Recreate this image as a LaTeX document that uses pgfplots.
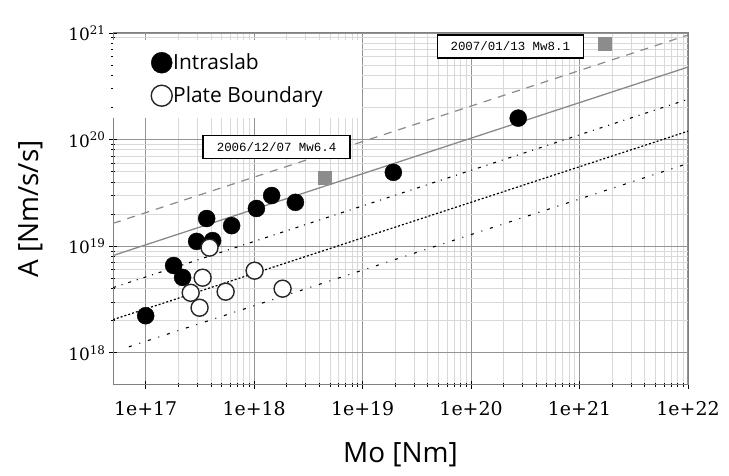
\documentclass[border=0pt]{standalone}
\usepackage{fontspec}
\setmainfont{DejaVu Serif}
\newfontfamily\sansf{Open Sans}
\newfontfamily\monof{Liberation Mono}
\usepackage{pgfplots}
\pgfplotsset{compat=1.18}
\definecolor{lgray}{RGB}{138,138,138}
\definecolor{sqgray}{RGB}{140,140,140}
\begin{document}
\begin{tikzpicture}
\begin{loglogaxis}[
  scale only axis, width=575bp, height=352bp,
  xmin=5e16, xmax=1e22, ymin=5e17, ymax=1e21,
  xtick={1e17,1e18,1e19,1e20,1e21,1e22},
  xticklabels={1e+17,1e+18,1e+19,1e+20,1e+21,1e+22},
  ytick={1e18,1e19,1e20,1e21},
  yticklabels={10\textsuperscript{18},10\textsuperscript{19},10\textsuperscript{20},10\textsuperscript{21}},
  /pgf/number format/assume math mode=true,
  grid=both,
  major grid style={draw=black!42, line width=1.1bp},
  minor grid style={draw=black!15, line width=0.9bp},
  axis line style={draw=black!50, line width=1bp},
  tick style={black, line width=0.9bp},
  tick align=center, major tick length=8bp, minor tick length=4bp,
  tick pos=left,
  xticklabel style={font=\fontsize{19}{22}\selectfont, yshift=-9bp},
  yticklabel style={font=\fontsize{17}{20}\selectfont},
  xlabel={Mo [Nm]},
  ylabel={A [Nm/s/s]},
  xlabel style={font=\sansf\fontsize{28}{32}\selectfont, at={(axis description cs:0.5,-0.199)}, anchor=center},
  ylabel style={font=\sansf\fontsize{28}{32}\selectfont, at={(axis description cs:-0.144,0.5)}, anchor=center},
  legend style={at={(axis description cs:0,0.98)}, anchor=north west, draw=none, fill=white,
    font=\sansf\fontsize{21}{25}\selectfont, inner xsep=38bp, inner ysep=12bp, row sep=12bp,
    nodes={inner sep=1bp}},
  legend image post style={mark size=10.5bp},
  legend cell align=left,
  clip mode=individual,
]
% model lines
\addplot[forget plot, lgray, line width=1.2bp, dash pattern=on 8bp off 7bp] coordinates {(5e16,1.64e19) (1e22,9.57e20)};
\addplot[forget plot, lgray, line width=1.3bp] coordinates {(5e16,8.18e18) (1e22,4.79e20)};
\addplot[forget plot, black, line width=1.1bp, dash pattern=on 3bp off 6bp on 1bp off 6bp] coordinates {(5e16,4.09e18) (1e22,2.39e20)};
\addplot[forget plot, black, line width=1.2bp, dash pattern=on 2bp off 2bp] coordinates {(5e16,2.05e18) (1e22,1.20e20)};
\addplot[forget plot, black, line width=1.1bp, dash pattern=on 3bp off 8bp on 1bp off 8bp] coordinates {(7e16,1.14e18) (1e22,5.98e19)};
% data
\addplot[only marks, mark=*, mark size=8.5bp, mark options={fill=black, draw=black}] coordinates {
(1.0e17,2.23e18) (1.81e17,6.6e18) (2.19e17,5.1e18) (2.95e17,1.11e19) (3.65e17,1.82e19)
(4.14e17,1.13e19) (6.2e17,1.56e19) (1.05e18,2.26e19) (1.45e18,2.99e19) (2.4e18,2.58e19)
(1.92e19,4.93e19) (2.72e20,1.59e20)};
\addlegendentry{Intraslab}
\addplot[only marks, mark=*, mark size=8.5bp, mark options={fill=white, draw=black!85, line width=1.4bp}] coordinates {
(3.88e17,9.7e18) (3.35e17,5.07e18) (2.6e17,3.66e18) (3.14e17,2.65e18) (5.46e17,3.75e18)
(1.01e18,5.9e18) (1.83e18,4.0e18)};
\addlegendentry{Plate Boundary}
\addplot[forget plot, only marks, mark=square*, mark size=6.5bp, mark options={fill=sqgray, draw=sqgray}] coordinates {
(4.45e18,4.43e19) (1.69e21,7.9e20)};
% annotation boxes
\node[draw=black, line width=1.2bp, fill=white, font=\monof\fontsize{12.5}{14}\selectfont,
  minimum width=147bp, minimum height=23bp, inner sep=2bp] at (axis cs:1.61e18,8.47e19) {2006/12/07 Mw6.4};
\node[draw=black, line width=1.2bp, fill=white, font=\monof\fontsize{12.5}{14}\selectfont,
  minimum width=146bp, minimum height=23bp, inner sep=2bp] at (axis cs:2.30e20,7.47e20) {2007/01/13 Mw8.1};
\end{loglogaxis}
\pgfresetboundingbox
\path[use as bounding box] (current axis.south west) ++(-113bp,-91bp) rectangle ([shift={(41bp,33bp)}]current axis.north east);
\end{tikzpicture}
\end{document}
